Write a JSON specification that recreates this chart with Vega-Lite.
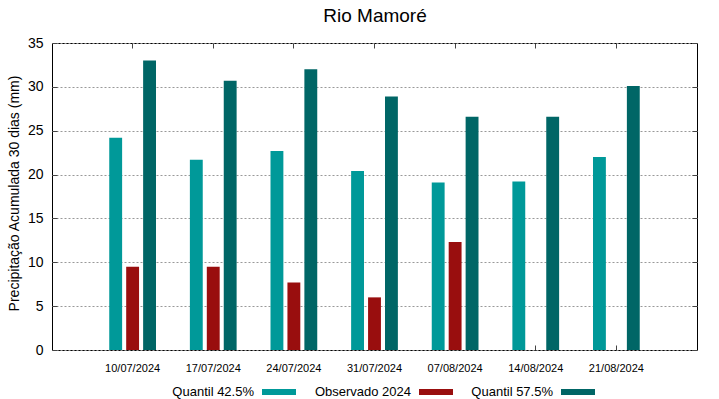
{
  "$schema": "https://vega.github.io/schema/vega-lite/v6.json",
  "width": 645,
  "height": 307,
  "autosize": {"type": "none"},
  "padding": {"left": 52, "top": 43, "right": 22, "bottom": 49},
  "background": "white",
  "config": {
    "font": "Liberation Sans",
    "view": {"stroke": "black", "strokeWidth": 1},
    "axis": {"domain": false, "labelFont": "Liberation Sans", "titleFont": "Liberation Sans", "labelColor": "black", "titleColor": "black", "tickColor": "#444444"}
  },
  "data": {
    "values": [
      {"date": "10/07/2024", "serie": "Quantil 42.5%", "v": 24.2},
      {"date": "10/07/2024", "serie": "Observado 2024", "v": 9.5},
      {"date": "10/07/2024", "serie": "Quantil 57.5%", "v": 33.0},
      {"date": "17/07/2024", "serie": "Quantil 42.5%", "v": 21.7},
      {"date": "17/07/2024", "serie": "Observado 2024", "v": 9.5},
      {"date": "17/07/2024", "serie": "Quantil 57.5%", "v": 30.7},
      {"date": "24/07/2024", "serie": "Quantil 42.5%", "v": 22.7},
      {"date": "24/07/2024", "serie": "Observado 2024", "v": 7.7},
      {"date": "24/07/2024", "serie": "Quantil 57.5%", "v": 32.0},
      {"date": "31/07/2024", "serie": "Quantil 42.5%", "v": 20.4},
      {"date": "31/07/2024", "serie": "Observado 2024", "v": 6.0},
      {"date": "31/07/2024", "serie": "Quantil 57.5%", "v": 28.9},
      {"date": "07/08/2024", "serie": "Quantil 42.5%", "v": 19.1},
      {"date": "07/08/2024", "serie": "Observado 2024", "v": 12.3},
      {"date": "07/08/2024", "serie": "Quantil 57.5%", "v": 26.6},
      {"date": "14/08/2024", "serie": "Quantil 42.5%", "v": 19.2},
      {"date": "14/08/2024", "serie": "Quantil 57.5%", "v": 26.6},
      {"date": "21/08/2024", "serie": "Quantil 42.5%", "v": 22.0},
      {"date": "21/08/2024", "serie": "Quantil 57.5%", "v": 30.1}
    ]
  },
  "layer": [
    {
      "mark": {"type": "bar", "stroke": null},
      "encoding": {
        "x": {
          "field": "date", "type": "nominal", "sort": null,
          "scale": {"paddingInner": 0, "paddingOuter": 0.5},
          "axis": {"title": null, "labelAngle": 0, "labelFontSize": 11, "tickSize": -5, "labelPadding": 17, "labelDx": 7, "tickBand": "center"}
        },
        "xOffset": {
          "field": "serie", "type": "nominal",
          "sort": ["Quantil 42.5%", "Observado 2024", "Quantil 57.5%"],
          "scale": {"paddingInner": 0.24, "paddingOuter": 1.06}
        },
        "y": {
          "field": "v", "type": "quantitative",
          "scale": {"domain": [0, 35], "nice": false},
          "axis": {"title": "Precipitação Acumulada 30 dias (mm)", "titleFontSize": 14, "titleFontWeight": "normal", "titleX": -31, "titleY": 150, "labelFontSize": 14, "values": [0,5,10,15,20,25,30,35], "labelOverlap": false, "tickSize": -5, "labelPadding": 14, "grid": true, "gridDash": [2, 2], "gridColor": "#999999", "gridWidth": 1}
        },
        "color": {
          "field": "serie", "type": "nominal",
          "sort": ["Quantil 42.5%", "Observado 2024", "Quantil 57.5%"],
          "scale": {"domain": ["Quantil 42.5%", "Observado 2024", "Quantil 57.5%"], "range": ["#009999", "#990e0e", "#006666"]},
          "legend": {
            "title": null, "orient": "none", "legendX": 210, "legendY": 332, "direction": "horizontal",
            "labelFontSize": 13, "labelColor": "black", "labelFont": "Liberation Sans",
            "symbolType": "M-1,-0.18H1V0.18H-1Z", "symbolSize": 1156, "symbolStrokeWidth": 0,
            "labelAlign": "right", "labelOffset": -42, "columnPadding": 18
          }
        }
      }
    },
    {
      "mark": {"type": "bar", "opacity": 0},
      "encoding": {
        "x": {"field": "date", "type": "nominal", "sort": null, "axis": {"orient": "top", "title": "Rio Mamoré", "titleFontSize": 19, "titleFontWeight": "normal", "titleColor": "black", "titleAlign": "center", "titleBaseline": "alphabetic", "titleX": 322.5, "titleY": -22, "labels": false, "tickSize": -5, "tickBand": "center"}},
        "y": {"field": "v", "type": "quantitative", "axis": {"orient": "right", "title": null, "labels": false, "values": [0,5,10,15,20,25,30,35], "tickSize": -5, "grid": false}}
      }
    }
  ],
  "resolve": {"axis": {"x": "independent", "y": "independent"}}
}
